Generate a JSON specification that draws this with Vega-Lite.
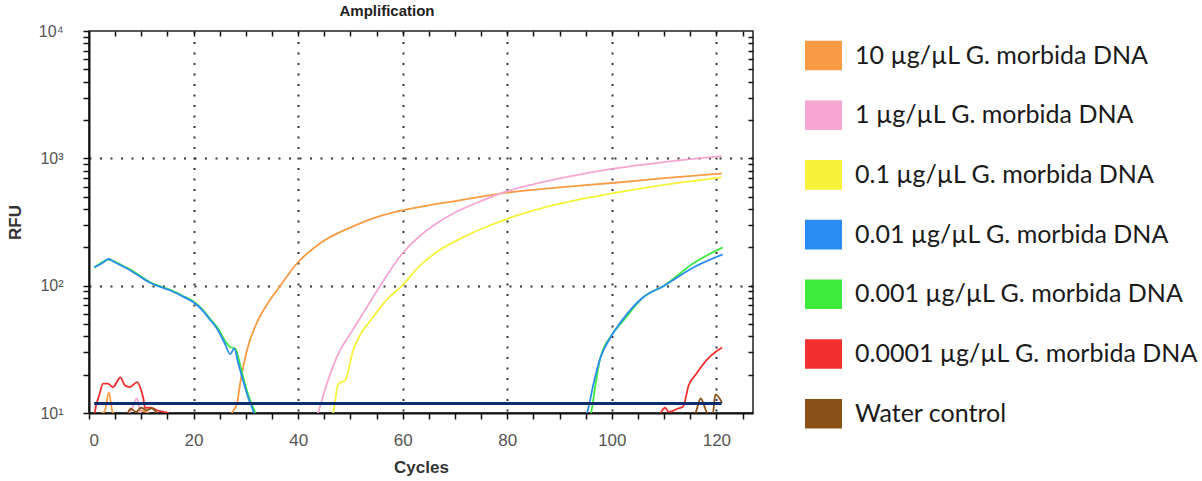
{
  "$schema": "https://vega.github.io/schema/vega-lite/v6.json",
  "width": 664,
  "height": 382,
  "autosize": {"type": "none"},
  "padding": {"left": 89, "top": 31, "right": 449, "bottom": 68},
  "background": "white",
  "title": {"text": "Amplification", "font": "Liberation Sans", "fontSize": 15, "fontWeight": "bold", "color": "#222", "offset": 4, "dx": -34},
  "config": {
    "view": {"stroke": "#222", "strokeWidth": 1.5}
  },
  "layer": [
    {
      "data": {"values": [
        {"s":"10","c":1,"v":9.6},{"s":"10","c":2,"v":9.8},{"s":"10","c":3,"v":10.3},{"s":"10","c":3.8,"v":14.5},{"s":"10","c":4.5,"v":10.2},{"s":"10","c":5.5,"v":9.5},{"s":"10","c":9,"v":9.5},{"s":"10","c":10,"v":10.4},{"s":"10","c":11,"v":10.2},{"s":"10","c":12,"v":9.6},{"s":"10","c":20,"v":8},{"s":"10","c":26,"v":8},{"s":"10","c":27,"v":9.5},{"s":"10","c":27.5,"v":10.3},{"s":"10","c":28.3,"v":11.8},{"s":"10","c":28.9,"v":17},{"s":"10","c":29.5,"v":23},{"s":"10","c":30.2,"v":31},{"s":"10","c":32.1,"v":51},{"s":"10","c":34.6,"v":77},{"s":"10","c":36.6,"v":100},{"s":"10","c":39.8,"v":150},{"s":"10","c":44.2,"v":215},{"s":"10","c":50.5,"v":292},{"s":"10","c":55,"v":345},{"s":"10","c":59.9,"v":390},{"s":"10","c":65,"v":428},{"s":"10","c":70,"v":462},{"s":"10","c":75,"v":500},{"s":"10","c":80,"v":538},{"s":"10","c":90,"v":592},{"s":"10","c":100,"v":640},{"s":"10","c":110,"v":698},{"s":"10","c":121,"v":760},
        {"s":"1","c":1,"v":9.3},{"s":"1","c":7,"v":9.5},{"s":"1","c":8,"v":10.4},{"s":"1","c":9.2,"v":13},{"s":"1","c":9.8,"v":10.2},{"s":"1","c":10.5,"v":9.5},{"s":"1","c":20,"v":8},{"s":"1","c":43,"v":8},{"s":"1","c":43.8,"v":10},{"s":"1","c":45.5,"v":17},{"s":"1","c":48,"v":31},{"s":"1","c":50,"v":42},{"s":"1","c":51.9,"v":56},{"s":"1","c":55.7,"v":100},{"s":"1","c":59.9,"v":178},{"s":"1","c":63,"v":240},{"s":"1","c":66.6,"v":310},{"s":"1","c":70,"v":375},{"s":"1","c":75,"v":462},{"s":"1","c":78.7,"v":530},{"s":"1","c":85,"v":625},{"s":"1","c":90,"v":695},{"s":"1","c":100.3,"v":830},{"s":"1","c":110,"v":935},{"s":"1","c":121,"v":1040},
        {"s":"0.1","c":1,"v":8},{"s":"0.1","c":46,"v":8},{"s":"0.1","c":46.7,"v":10},{"s":"0.1","c":47.7,"v":17},{"s":"0.1","c":48.3,"v":17.5},{"s":"0.1","c":49,"v":18},{"s":"0.1","c":50.5,"v":31},{"s":"0.1","c":52,"v":42},{"s":"0.1","c":53.8,"v":53},{"s":"0.1","c":57,"v":78},{"s":"0.1","c":59.9,"v":100},{"s":"0.1","c":63,"v":140},{"s":"0.1","c":66.6,"v":185},{"s":"0.1","c":72,"v":245},{"s":"0.1","c":76.7,"v":298},{"s":"0.1","c":80,"v":335},{"s":"0.1","c":90,"v":440},{"s":"0.1","c":100.3,"v":534},{"s":"0.1","c":110,"v":620},{"s":"0.1","c":121,"v":710},
        {"s":"0.001","c":1,"v":138},{"s":"0.001","c":2,"v":148},{"s":"0.001","c":3,"v":157},{"s":"0.001","c":3.7,"v":160},{"s":"0.001","c":5,"v":154},{"s":"0.001","c":6,"v":147},{"s":"0.001","c":8,"v":133},{"s":"0.001","c":10,"v":118},{"s":"0.001","c":12,"v":105},{"s":"0.001","c":13,"v":101},{"s":"0.001","c":16,"v":91},{"s":"0.001","c":18,"v":83},{"s":"0.001","c":20,"v":75},{"s":"0.001","c":22,"v":63},{"s":"0.001","c":23,"v":56},{"s":"0.001","c":24.7,"v":46},{"s":"0.001","c":26,"v":37},{"s":"0.001","c":27,"v":33},{"s":"0.001","c":28,"v":32},{"s":"0.001","c":29,"v":23},{"s":"0.001","c":30,"v":16},{"s":"0.001","c":31,"v":12},{"s":"0.001","c":31.8,"v":10},{"s":"0.001","c":32.3,"v":8},{"s":"0.001","c":94,"v":8},{"s":"0.001","c":96,"v":10},{"s":"0.001","c":96.8,"v":16},{"s":"0.001","c":97.8,"v":27},{"s":"0.001","c":100,"v":41},{"s":"0.001","c":102.2,"v":53},{"s":"0.001","c":106,"v":81},{"s":"0.001","c":110,"v":100},{"s":"0.001","c":115.6,"v":150},{"s":"0.001","c":121.2,"v":200},
        {"s":"0.01","c":1,"v":140},{"s":"0.01","c":2,"v":146},{"s":"0.01","c":3,"v":155},{"s":"0.01","c":3.7,"v":162},{"s":"0.01","c":5,"v":152},{"s":"0.01","c":6,"v":145},{"s":"0.01","c":8,"v":131},{"s":"0.01","c":10,"v":116},{"s":"0.01","c":12,"v":104},{"s":"0.01","c":13,"v":100},{"s":"0.01","c":16,"v":90},{"s":"0.01","c":18,"v":82},{"s":"0.01","c":20,"v":74},{"s":"0.01","c":22,"v":62},{"s":"0.01","c":23,"v":55},{"s":"0.01","c":24.7,"v":44.5},{"s":"0.01","c":26,"v":35},{"s":"0.01","c":27,"v":29},{"s":"0.01","c":27.8,"v":32},{"s":"0.01","c":28.5,"v":25},{"s":"0.01","c":29.3,"v":19},{"s":"0.01","c":30.5,"v":13},{"s":"0.01","c":31.5,"v":10},{"s":"0.01","c":32,"v":8},{"s":"0.01","c":94,"v":8},{"s":"0.01","c":95.4,"v":10.5},{"s":"0.01","c":96.5,"v":17},{"s":"0.01","c":97.8,"v":27},{"s":"0.01","c":99.7,"v":39},{"s":"0.01","c":101.6,"v":51},{"s":"0.01","c":106,"v":81},{"s":"0.01","c":110,"v":100},{"s":"0.01","c":115.6,"v":139},{"s":"0.01","c":121.2,"v":176},
        {"s":"0.0001","c":1,"v":9},{"s":"0.0001","c":1.1,"v":10},{"s":"0.0001","c":2,"v":14},{"s":"0.0001","c":2.7,"v":17},{"s":"0.0001","c":3.6,"v":17},{"s":"0.0001","c":4.6,"v":16},{"s":"0.0001","c":6,"v":19},{"s":"0.0001","c":6.9,"v":16.4},{"s":"0.0001","c":7.8,"v":16},{"s":"0.0001","c":9.2,"v":17.5},{"s":"0.0001","c":10,"v":15},{"s":"0.0001","c":10.4,"v":13},{"s":"0.0001","c":10.7,"v":11},{"s":"0.0001","c":11.9,"v":11},{"s":"0.0001","c":13,"v":10.5},{"s":"0.0001","c":14.3,"v":10.2},{"s":"0.0001","c":15.2,"v":10},{"s":"0.0001","c":16,"v":8},{"s":"0.0001","c":108,"v":8},{"s":"0.0001","c":109.3,"v":10},{"s":"0.0001","c":110.2,"v":11},{"s":"0.0001","c":110.9,"v":10.2},{"s":"0.0001","c":112.8,"v":10.9},{"s":"0.0001","c":113.6,"v":11.2},{"s":"0.0001","c":114.7,"v":16.5},{"s":"0.0001","c":116.2,"v":20.4},{"s":"0.0001","c":118.1,"v":26},{"s":"0.0001","c":120.2,"v":31},{"s":"0.0001","c":121.1,"v":32.7},
        {"s":"water","c":1,"v":9},{"s":"water","c":7,"v":9.5},{"s":"water","c":8,"v":10.8},{"s":"water","c":9,"v":10.2},{"s":"water","c":10,"v":11},{"s":"water","c":11,"v":10.5},{"s":"water","c":12,"v":10.9},{"s":"water","c":13,"v":10},{"s":"water","c":14,"v":9},{"s":"water","c":115,"v":9},{"s":"water","c":116,"v":10},{"s":"water","c":117,"v":13},{"s":"water","c":118.3,"v":10},{"s":"water","c":119.3,"v":9.8},{"s":"water","c":119.8,"v":14},{"s":"water","c":121.1,"v":12}
      ]},
      "mark": {"type": "line", "clip": true, "strokeWidth": 1.8, "interpolate": "monotone"},
      "encoding": {
        "x": {
          "field": "c", "type": "quantitative",
          "scale": {"domain": [0, 127], "nice": false, "zero": false},
          "axis": {
            "values": [0,5,10,15,20,25,30,35,40,45,50,55,60,65,70,75,80,85,90,95,100,105,110,115,120,125],
            "labelExpr": "datum.value % 20 == 0 ? datum.label : ''",
            "labelFont": "Liberation Sans", "labelFontSize": 17, "labelColor": "#555", "labelPadding": 13,
            "tickSize": 6, "tickColor": "#111", "tickWidth": 1.5,
            "domainColor": "#111", "domainWidth": 2,
            "grid": true, "gridColor": "#333", "gridDash": [2, 8.5], "gridWidth": 2,
            "gridOpacity": {"condition": {"test": "datum.value % 20 == 0 && datum.value > 0", "value": 1}, "value": 0},
            "title": "Cycles", "titleFont": "Liberation Sans", "titleFontSize": 17, "titleFontWeight": "bold", "titleColor": "#333", "titlePadding": 11
          }
        },
        "y": {
          "field": "v", "type": "quantitative",
          "scale": {"type": "log", "domain": [10, 10000], "nice": false},
          "axis": {
            "values": [10,20,30,40,50,60,70,80,90,100,200,300,400,500,600,700,800,900,1000,2000,3000,4000,5000,6000,7000,8000,9000,10000],
            "labelExpr": "datum.value == 10 ? '10¹' : datum.value == 100 ? '10²' : datum.value == 1000 ? '10³' : datum.value == 10000 ? '10⁴' : ''",
            "labelFont": "Liberation Sans", "labelFontSize": 16, "labelColor": "#555", "labelPadding": 20,
            "tickSize": 6, "tickColor": "#111", "tickWidth": 1.5,
            "domainColor": "#111", "domainWidth": 2,
            "grid": true, "gridColor": "#333", "gridDash": [2, 8.5], "gridWidth": 2,
            "gridOpacity": {"condition": {"test": "datum.value == 100 || datum.value == 1000", "value": 1}, "value": 0},
            "title": "RFU", "titleFont": "Liberation Sans", "titleFontSize": 17, "titleFontWeight": "bold", "titleColor": "#333", "titlePadding": 14
          }
        },
        "color": {
          "field": "s", "type": "nominal",
          "scale": {
            "domain": ["10", "1", "0.1", "0.01", "0.001", "0.0001", "water"],
            "range": ["#F89B42", "#F5A6D2", "#F7F23A", "#2A8CF2", "#3DEB3D", "#F2302F", "#8B5016"]
          },
          "legend": {
            "orient": "none", "legendX": 716, "legendY": 6, "padding": 0,
            "title": null,
            "labelExpr": "datum.value == 'water' ? 'Water control' : datum.value + ' µg/µL G. morbida DNA'",
            "labelFont": "Lato", "labelFontSize": 25, "labelColor": "#1a1a1a", "labelOffset": 13, "labelLimit": 500,
            "symbolType": "M-1,-0.8H1V0.8H-1Z", "symbolSize": 1369, "symbolStrokeWidth": 0,
            "rowPadding": 25.7,
            "encode": {"symbols": {"update": {"fill": {"scale": "color", "field": "value"}, "fillOpacity": {"value": 1}, "strokeWidth": {"value": 0}}}}
          }
        }
      }
    },
    {
      "data": {"values": [{"start": 1, "end": 121, "thr": 11.9}]},
      "mark": {"type": "rule", "color": "#0B2D6E", "strokeWidth": 3},
      "encoding": {
        "x": {
          "field": "start", "type": "quantitative",
          "axis": {"orient": "top", "values": [5,10,15,20,25,30,35,40,45,50,55,60,65,70,75,80,85,90,95,100,105,110,115,120,125], "labels": false, "tickSize": -5, "tickColor": "#111", "tickWidth": 1.5, "domain": false, "grid": false, "title": null}
        },
        "x2": {"field": "end"},
        "y": {
          "field": "thr", "type": "quantitative",
          "axis": {"orient": "right", "values": [20,30,40,50,60,70,80,90,100,200,300,400,500,600,700,800,900,1000,2000,3000,4000,5000,6000,7000,8000,9000], "labels": false, "tickSize": -5, "tickColor": "#111", "tickWidth": 1.5, "domain": false, "grid": false, "title": null}
        }
      }
    }
  ],
  "resolve": {"axis": {"x": "independent", "y": "independent"}}
}
